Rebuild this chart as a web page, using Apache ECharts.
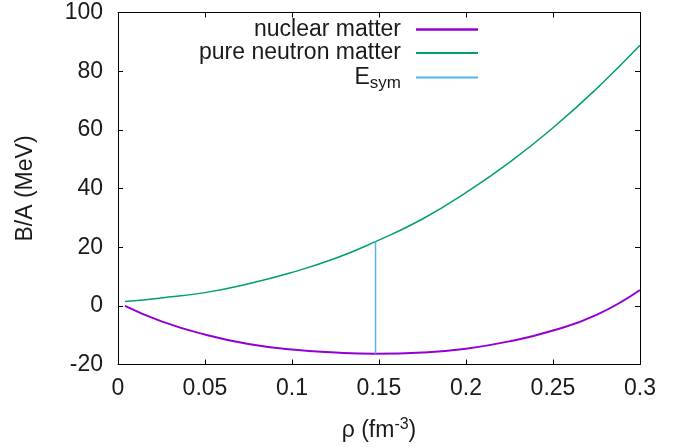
<!DOCTYPE html>
<html>
<head>
<meta charset="utf-8">
<script src="https://cdn.jsdelivr.net/npm/echarts@6/dist/echarts.min.js"></script>
<style>
html,body{margin:0;padding:0;background:#fff;}
#chart{width:685px;height:447px;}
</style>
</head>
<body>
<div id="chart"></div>
<script>
// Data
var rho = [0.004, 0.025, 0.05, 0.075, 0.1, 0.125, 0.148, 0.175, 0.2, 0.225, 0.25, 0.275, 0.3];
var nuclearMatter = [0.0, -5.3, -9.8, -13.0, -14.9, -15.9, -16.3, -15.9, -14.6, -12.1, -8.4, -3.1, 5.4];
var neutronMatter = [1.5, 2.7, 4.5, 7.5, 11.4, 16.2, 21.9, 29.6, 38.6, 48.9, 60.7, 74.0, 88.8];
var esymRho = [0.148, 0.148];
var esymVal = [-16.3, 21.9];
var seriesNames = ['nuclear matter', 'pure neutron matter', 'E_sym'];
var xTicks = {min: 0, max: 0.3, step: 0.05};
var yTicks = {min: -20, max: 100, step: 20};

function pairs(xs, ys) { return xs.map(function (x, i) { return [x, ys[i]]; }); }

var FONT = 'Liberation Sans';
var FS = 23;
var TXT = '#1a1a1a';
var colors = ['#9400d3', '#009e73', '#56b4e9'];

var chart = echarts.init(document.getElementById('chart'), null, {renderer: 'canvas'});

function legendAt(name, top, h) {
  return {
    data: [name], right: 207, top: top, orient: 'vertical', align: 'right',
    padding: 0, itemWidth: 62, itemHeight: h, itemGap: 0, icon: 'rect',
    selectedMode: false,
    formatter: function (n) { return n === 'E_sym' ? '{m|E}{s|sym}' : n; },
    textStyle: {
      fontFamily: FONT, fontSize: FS, color: TXT, padding: [0, 10, 0, 0],
      rich: {
        m: {fontFamily: FONT, fontSize: FS, color: TXT},
        s: {fontFamily: FONT, fontSize: 17, color: TXT, padding: [12, 0, 0, 0]}
      }
    }
  };
}

var axisCommon = {
  type: 'value',
  axisLine: {show: true, onZero: false, lineStyle: {color: '#000', width: 1}},
  axisTick: {show: true, inside: true, length: 5, lineStyle: {color: '#000', width: 1}},
  splitLine: {show: false}
};

var option = {
  animation: false,
  backgroundColor: '#fff',
  grid: {left: 118, right: 45, top: 12.5, bottom: 82},
  legend: [legendAt(seriesNames[0], 18, 2.5), legendAt(seriesNames[1], 41.5, 2), legendAt(seriesNames[2], 66, 2)],
  xAxis: [
    Object.assign({}, axisCommon, {
      min: xTicks.min, max: xTicks.max, interval: xTicks.step, position: 'bottom',
      axisLabel: {fontFamily: FONT, fontSize: FS, color: TXT, margin: 13},
      name: '{a|ρ (fm}{b|-3}{a|)}', nameLocation: 'middle', nameGap: 52,
      nameTextStyle: {
        rich: {
          a: {fontFamily: FONT, fontSize: FS, color: TXT},
          b: {fontFamily: FONT, fontSize: 16, color: TXT, padding: [0, 0, 12, 0]}
        }
      }
    }),
    Object.assign({}, axisCommon, {
      min: xTicks.min, max: xTicks.max, interval: xTicks.step, position: 'top',
      axisLabel: {show: false}
    })
  ],
  yAxis: [
    Object.assign({}, axisCommon, {
      min: yTicks.min, max: yTicks.max, interval: yTicks.step, position: 'left',
      axisLabel: {fontFamily: FONT, fontSize: FS, color: TXT, margin: 15},
      name: 'B/A (MeV)', nameLocation: 'middle', nameGap: 81, nameRotate: 90,
      nameTextStyle: {fontFamily: FONT, fontSize: FS, color: TXT}
    }),
    Object.assign({}, axisCommon, {
      min: yTicks.min, max: yTicks.max, interval: yTicks.step, position: 'right',
      axisLabel: {show: false}
    })
  ],
  series: [
    {name: seriesNames[0], type: 'line', data: pairs(rho, nuclearMatter), smooth: 0.5,
     symbol: 'none', lineStyle: {color: colors[0], width: 2}, itemStyle: {color: colors[0]}},
    {name: seriesNames[1], type: 'line', data: pairs(rho, neutronMatter), smooth: 0.5,
     symbol: 'none', lineStyle: {color: colors[1], width: 1.5}, itemStyle: {color: colors[1]}},
    {name: seriesNames[2], type: 'line', data: pairs(esymRho, esymVal),
     symbol: 'none', lineStyle: {color: colors[2], width: 1.5}, itemStyle: {color: colors[2]}}
  ]
};
chart.setOption(option);
</script>
</body>
</html>
